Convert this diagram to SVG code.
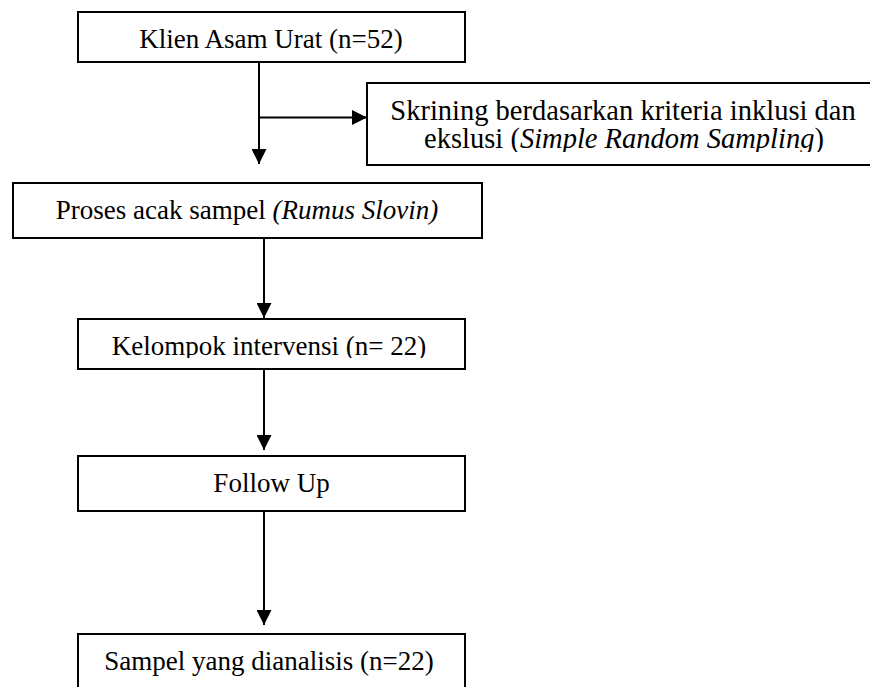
<svg xmlns="http://www.w3.org/2000/svg" width="870" height="687" viewBox="0 0 870 687">
<style>
.box{fill:#fff;stroke:#000;stroke-width:2}
.t{font-family:"Liberation Serif","Times New Roman",serif;font-size:27px;fill:#000;text-anchor:middle}
.big{font-size:28.5px}
.i{font-style:italic}
.c{stroke:#000;stroke-width:2;fill:none}
</style>
<defs>
<marker id="ah" viewBox="0 0 15 15" markerWidth="15" markerHeight="15" refX="15" refY="7.5" orient="auto" markerUnits="userSpaceOnUse">
<path d="M0,0 L15,7.5 L0,15 Z" fill="#000"/>
</marker>
<clipPath id="clip2"><rect x="367" y="83" width="510" height="69"/></clipPath>
<clipPath id="clip4"><rect x="78" y="319" width="387" height="39"/></clipPath>
</defs>
<rect width="870" height="687" fill="#fff"/>
<g id="connectors">
<line class="c" x1="259" y1="62" x2="259" y2="164" marker-end="url(#ah)"/>
<line class="c" x1="259" y1="117.5" x2="367" y2="117.5" marker-end="url(#ah)"/>
<line class="c" x1="264" y1="238" x2="264" y2="318" marker-end="url(#ah)"/>
<line class="c" x1="264" y1="369" x2="264" y2="450" marker-end="url(#ah)"/>
<line class="c" x1="264" y1="511" x2="264" y2="625" marker-end="url(#ah)"/>
</g>
<g id="n1">
<rect class="box" x="78" y="12" width="387" height="50"/>
<text class="t" x="271" y="48">Klien Asam Urat (n=52)</text>
</g>
<g id="n2">
<rect class="box" x="367" y="83" width="510" height="82"/>
<g clip-path="url(#clip2)">
<text class="t big" x="623" y="120">Skrining berdasarkan kriteria inklusi dan</text>
<text class="t big" x="624" y="148">ekslusi (<tspan class="i">Simple Random Sampling</tspan>)</text>
</g>
</g>
<g id="n3">
<rect class="box" x="13" y="183" width="469" height="55"/>
<text class="t" x="247" y="219">Proses acak sampel <tspan class="i">(Rumus Slovin)</tspan></text>
</g>
<g id="n4">
<rect class="box" x="78" y="319" width="387" height="50"/>
<g clip-path="url(#clip4)">
<text class="t" x="269" y="355">Kelompok intervensi (n= 22)</text>
</g>
</g>
<g id="n5">
<rect class="box" x="78" y="456" width="387" height="55"/>
<text class="t" x="271.5" y="492">Follow Up</text>
</g>
<g id="n6">
<rect class="box" x="78" y="634" width="387" height="70"/>
<text class="t" x="269" y="670">Sampel yang dianalisis (n=22)</text>
</g>
</svg>
